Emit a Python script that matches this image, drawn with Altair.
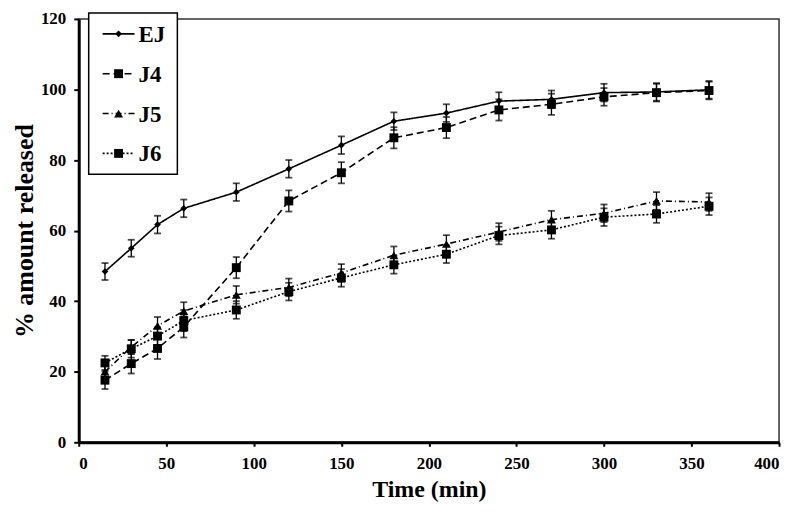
import altair as alt
import pandas as pd

time = [15, 30, 45, 60, 90, 120, 150, 180, 210, 240, 270, 300, 330, 360]
ej = [48.4, 55.0, 61.7, 66.3, 70.9, 77.5, 84.2, 91.0, 93.3, 96.7, 97.2, 99.1, 99.3, 99.9]
j4 = [17.6, 22.3, 26.6, 32.7, 49.5, 68.4, 76.4, 86.3, 89.2, 94.2, 95.8, 97.9, 99.1, 99.7]
j5 = [20.0, 27.0, 33.0, 37.2, 41.8, 43.9, 48.0, 53.0, 56.2, 59.6, 63.1, 64.9, 68.4, 68.1]
j6 = [22.5, 26.5, 30.1, 34.5, 37.5, 42.7, 46.6, 50.3, 53.3, 58.6, 60.2, 63.8, 64.7, 66.9]
err_ej = [2.4, 2.4, 2.5, 2.5, 2.5, 2.5, 2.5, 2.5, 2.5, 2.5, 2.5, 2.5, 2.5, 2.5]
err_j4 = [2.5, 2.8, 3.0, 3.0, 3.0, 3.0, 3.0, 3.0, 3.0, 3.0, 3.0, 2.5, 2.5, 2.5]
err_j5 = [2.0, 2.0, 2.5, 2.5, 2.5, 2.5, 2.5, 2.5, 2.5, 2.5, 2.5, 2.5, 2.5, 2.5]
err_j6 = [2.0, 2.5, 2.5, 3.0, 2.5, 2.5, 2.5, 2.5, 2.5, 2.5, 2.5, 2.5, 2.5, 2.5]

series = ["EJ", "J4", "J5", "J6"]
dashes = [[1, 0], [7, 4], [6, 3, 1, 3], [2, 2]]
shapes = ["diamond", "square", "triangle-up", "square"]
sizes = [45, 80, 80, 80]

rows = []
for name, vals, errs in zip(series, [ej, j4, j5, j6], [err_ej, err_j4, err_j5, err_j6]):
    for t, v, e in zip(time, vals, errs):
        rows.append({"series": name, "time": t, "value": v, "lo": v - e, "hi": v + e})
df = pd.DataFrame(rows)

FONT = "Liberation Serif"
xscale = alt.Scale(domain=[0, 400], nice=False)
yscale = alt.Scale(domain=[0, 120], nice=False)

xenc = alt.X("time:Q", scale=xscale,
             axis=alt.Axis(title="Time (min)", values=list(range(0, 401, 50)),
                           grid=False, tickSize=4, labelPadding=9, titlePadding=6,
                           titleFontSize=24))
yenc = alt.Y("value:Q", scale=yscale,
             axis=alt.Axis(title="% amount released", values=list(range(0, 121, 20)),
                           grid=False, tickSize=5, labelPadding=8,
                           titleX=-54, titleBaseline="middle", titleFontSize=26))

layers = []
for i, name in enumerate(series):
    sub = alt.Chart(df).transform_filter(alt.datum.series == name)
    layers.append(sub.mark_rule(color="black", strokeWidth=1.3).encode(
        x="time:Q", y="lo:Q", y2="hi:Q"))
    layers.append(sub.mark_tick(color="black", thickness=1.8, size=7, orient="horizontal").encode(
        x="time:Q", y="lo:Q"))
    layers.append(sub.mark_tick(color="black", thickness=1.8, size=7, orient="horizontal").encode(
        x="time:Q", y="hi:Q"))
    layers.append(sub.mark_line(color="black", strokeWidth=1.6, strokeDash=dashes[i]).encode(
        x=xenc, y=yenc))
    layers.append(sub.mark_point(color="black", filled=True, opacity=1,
                                 shape=shapes[i], size=sizes[i]).encode(
        x="time:Q", y="value:Q"))

# legend drawn inside the plot
box = alt.Chart(pd.DataFrame({"a": [0]})).mark_rect(
    fill="white", stroke="black", strokeWidth=1.5).encode(
    x=alt.value(10), x2=alt.value(99), y=alt.value(-6), y2=alt.value(156))
layers.insert(0, box)
rowy = [15, 55, 95, 135]
for i, name in enumerate(series):
    one = alt.Chart(pd.DataFrame({"series": [name]}))
    layers.append(one.mark_rule(color="black", strokeWidth=1.6, strokeDash=dashes[i]).encode(
        x=alt.value(24), x2=alt.value(56), y=alt.value(rowy[i])))
    layers.append(one.mark_point(color="black", filled=True, opacity=1,
                                 shape=shapes[i], size=sizes[i]).encode(
        x=alt.value(40), y=alt.value(rowy[i])))
    layers.append(one.mark_text(font=FONT, fontSize=23, fontWeight="bold", align="left",
                                baseline="middle", color="black").encode(
        x=alt.value(60), y=alt.value(rowy[i] + 1), text="series:N"))

chart = alt.layer(*layers).properties(
    width=703, height=425,
    autosize=alt.AutoSizeParams(type="none"),
    padding={"left": 71, "top": 10, "right": 12, "bottom": 60},
    background="white",
).configure_view(
    stroke="#333333", strokeWidth=1.5
).configure_axis(
    labelFont=FONT, labelFontSize=17, labelFontWeight="bold", labelColor="black",
    titleFont=FONT, titleFontWeight="bold", titleColor="black",
    domainColor="black", domainWidth=3, tickColor="black", tickWidth=2
)

chart.save("out.html", embed_options={"renderer": "svg", "actions": False})
